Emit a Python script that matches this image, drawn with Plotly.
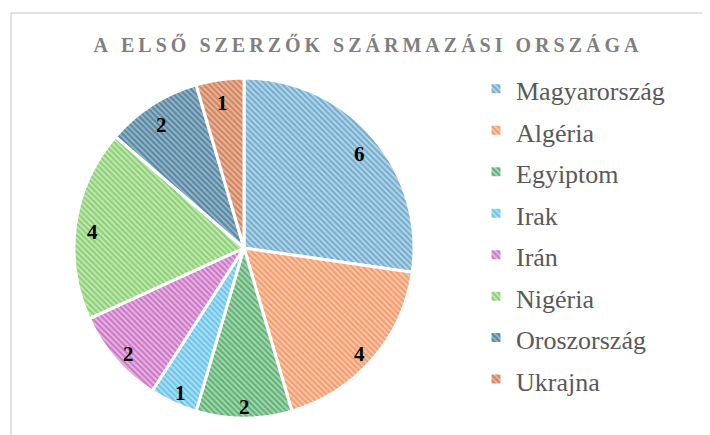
import math
import plotly.graph_objects as go

countries = ["Magyarország", "Algéria", "Egyiptom", "Irak", "Irán", "Nigéria", "Oroszország", "Ukrajna"]
counts = [6, 4, 2, 1, 2, 4, 2, 1]
title_text = "A ELSŐ SZERZŐK SZÁRMAZÁSI ORSZÁGA"

fg_colors = ["#3A80AD", "#EC6E2C", "#22843B", "#27A9E0", "#A83AA4", "#56B536", "#1B5272", "#BB4E20"]
bg_colors = ["#B8DBEE", "#FACDB2", "#A9DEB5", "#B5E2F6", "#ECBBE8", "#C8EBBA", "#9BBCD0", "#EABCA2"]

W, H = 710, 435
OFF = 8  # page body margin of the html page
cx, cy, r = 244 - OFF, 248 - OFF, 170

spaced_title = "\u2009".join(title_text)
legend_labels = [f"<span style='font-size:26px'>{c}</span>" for c in countries]

fig = go.Figure(go.Pie(
    labels=legend_labels,
    values=counts,
    sort=False,
    direction="clockwise",
    rotation=0,
    textinfo="none",
    marker=dict(
        colors=bg_colors,
        line=dict(color="white", width=3),
        pattern=dict(shape="\\", fgcolor=fg_colors, bgcolor=bg_colors, size=4, solidity=0.6, fillmode="overlay"),
    ),
    domain=dict(x=[(cx - r) / W, (cx + r) / W], y=[(H - cy - r) / H, (H - cy + r) / H]),
    hoverinfo="skip",
))

# data labels placed near the outer edge of each slice (like Excel "inside end")
total = sum(counts)
cum = 0
annotations = []
for v in counts:
    mid = (cum + v / 2) / total * 2 * math.pi
    cum += v
    rr = 0.9 * r
    px = cx + rr * math.sin(mid)
    py = cy - rr * math.cos(mid)
    annotations.append(dict(x=px / W, y=1 - py / H, xref="paper", yref="paper", text=str(v), showarrow=False,
                            xanchor="center", yanchor="middle", yshift=-6,
                            font=dict(family="Liberation Serif", size=21, color="black", weight="bold")))

fig.update_layout(
    width=W, height=H,
    margin=dict(l=0, r=0, t=0, b=0),
    paper_bgcolor="white",
    title=dict(text=spaced_title, x=(366 - OFF) / W, xanchor="center", y=1 - (45 - OFF) / H, yanchor="middle",
               font=dict(family="Liberation Serif", size=20, color="#7F7F7F", weight="bold")),
    legend=dict(x=(476 - OFF) / W, xanchor="left", y=1 - (63 - OFF) / H, yanchor="top",
                font=dict(family="Liberation Serif", size=29.6, color="#595959"),
                bgcolor="rgba(0,0,0,0)"),
    showlegend=True,
    annotations=annotations,
    shapes=[dict(type="line", xref="paper", yref="paper", x0=(11 - OFF) / W, x1=1.05,
                 y0=1 - (13 - OFF) / H, y1=1 - (13 - OFF) / H,
                 line=dict(color="#D9D9D9", width=1.5)),
            dict(type="line", xref="paper", yref="paper", x0=(11 - OFF) / W, x1=(11 - OFF) / W,
                 y0=1 - (13 - OFF) / H, y1=-0.05,
                 line=dict(color="#D9D9D9", width=1.5))],
)

fig.write_html("out.html")
